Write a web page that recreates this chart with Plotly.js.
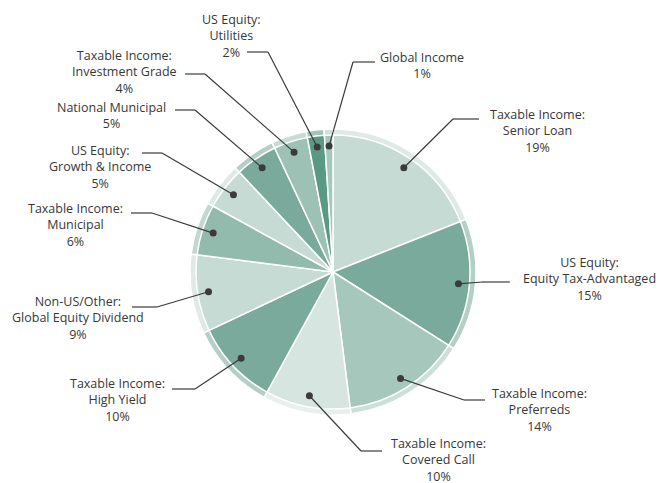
<!DOCTYPE html>
<html>
<head>
<meta charset="utf-8">
<script src="https://cdn.plot.ly/plotly-3.0.1.min.js"></script>
<style>html,body{margin:0;padding:0;background:#fff;}#chart{width:660px;height:483px;}</style>
</head>
<body>
<div id="chart"></div>
<script>
// ---- data ----
const categories = [
  "Taxable Income: Senior Loan",
  "US Equity: Equity Tax-Advantaged",
  "Taxable Income: Preferreds",
  "Taxable Income: Covered Call",
  "Taxable Income: High Yield",
  "Non-US/Other: Global Equity Dividend",
  "Taxable Income: Municipal",
  "US Equity: Growth & Income",
  "National Municipal",
  "Taxable Income: Investment Grade",
  "US Equity: Utilities",
  "Global Income"
];
const values = [19, 15, 14, 10, 10, 9, 6, 5, 5, 4, 2, 1];
const labelTexts = [
  "Taxable Income:<br>Senior Loan<br>19%",
  "US Equity:<br>Equity Tax-Advantaged<br>15%",
  "Taxable Income:<br>Preferreds<br>14%",
  "Taxable Income:<br>Covered Call<br>10%",
  "Taxable Income:<br>High Yield<br>10%",
  "Non-US/Other:<br>Global Equity Dividend<br>9%",
  "Taxable Income:<br>Municipal<br>6%",
  "US Equity:<br>Growth &amp; Income<br>5%",
  "National Municipal<br>5%",
  "Taxable Income:<br>Investment Grade<br>4%",
  "US Equity:<br>Utilities<br>2%",
  "Global Income<br>1%"
];

// ---- styles / layout positions ----
const colors = ["#c6dbd4","#7aaa9b","#a6c8bc","#d7e5e1","#7aaa9b","#c6dbd4",
                "#93bbad","#c6dbd4","#7aaa9b","#9dc1b4","#5a9a85","#a6c8bc"];
const W = 660, H = 483;
const cx = 333, cy = 272, rOuter = 143, rInner = 137, rDot = 126;
// label block centre [x, y], elbow [x, y], end of horizontal [x]
const labelPos = [
  [537, 131], [589, 279], [539, 410], [438, 460], [117, 400], [78, 318],
  [75, 225], [100, 167], [111, 115], [124, 72], [231, 36], [422, 65]
];
const elbows = [
  [453, 119], [482, 282], [464, 400], [361, 451], [195, 389], [157, 307],
  [152, 213], [162, 153], [195, 110], [205, 74], [268, 52], [353, 62]
];
const ends = [479, 510, 485, 382, 172, 132, 131, 142, 175, 185, 247, 375];

function lighten(hex, t) {
  const n = parseInt(hex.slice(1), 16);
  const r = (n >> 16) & 255, g = (n >> 8) & 255, b = n & 255;
  const f = c => Math.round(c + (255 - c) * t);
  return "rgb(" + f(r) + "," + f(g) + "," + f(b) + ")";
}
const ringColors = colors.map(c => lighten(c, 0.43));

function dom(r) {
  return {
    x: [(cx - r) / W, (cx + r) / W],
    y: [(H - cy - r) / H, (H - cy + r) / H]
  };
}

const pieCommon = {
  type: "pie",
  labels: categories,
  values: values,
  sort: false,
  direction: "clockwise",
  rotation: 0,
  textinfo: "none",
  hoverinfo: "none",
  showlegend: false
};
const traces = [
  Object.assign({}, pieCommon, {
    domain: dom(rOuter),
    marker: { colors: ringColors, line: { color: "#ffffff", width: 1.5 } }
  }),
  Object.assign({}, pieCommon, {
    domain: dom(rInner),
    marker: { colors: colors, line: { color: "#ffffff", width: 1.5 } }
  })
];

// leader lines and dots computed from slice mid-angles
const total = values.reduce((a, b) => a + b, 0);
const shapes = [];
const annotations = [];
let cum = 0;
const lineCol = "#3b3b3b";
values.forEach((v, i) => {
  const mid = (cum + v / 2) / total * 2 * Math.PI;
  cum += v;
  const dx = cx + rDot * Math.sin(mid);
  const dy = cy - rDot * Math.cos(mid);
  const [ex, ey] = elbows[i];
  shapes.push({ type: "line", xref: "x", yref: "y", x0: dx, y0: dy, x1: ex, y1: ey,
    line: { color: lineCol, width: 1.2 }, layer: "above" });
  shapes.push({ type: "line", xref: "x", yref: "y", x0: ex, y0: ey, x1: ends[i], y1: ey,
    line: { color: lineCol, width: 1.2 }, layer: "above" });
  shapes.push({ type: "circle", xref: "x", yref: "y", x0: dx - 3.5, y0: dy - 3.5, x1: dx + 3.5, y1: dy + 3.5,
    fillcolor: lineCol, line: { width: 0 }, layer: "above" });
  annotations.push({ xref: "x", yref: "y", x: labelPos[i][0], y: labelPos[i][1],
    text: labelTexts[i], showarrow: false, xanchor: "center", yanchor: "middle", align: "center",
    font: { family: "Open Sans, sans-serif", size: 12.5, color: "#383838" } });
});

const layout = {
  width: W, height: H,
  margin: { l: 0, r: 0, t: 0, b: 0 },
  paper_bgcolor: "#ffffff",
  plot_bgcolor: "rgba(0,0,0,0)",
  xaxis: { range: [0, W], visible: false, fixedrange: true },
  yaxis: { range: [H, 0], visible: false, fixedrange: true },
  shapes: shapes,
  annotations: annotations,
  showlegend: false
};

Plotly.newPlot("chart", traces, layout, { staticPlot: true, displayModeBar: false });
</script>
</body>
</html>
